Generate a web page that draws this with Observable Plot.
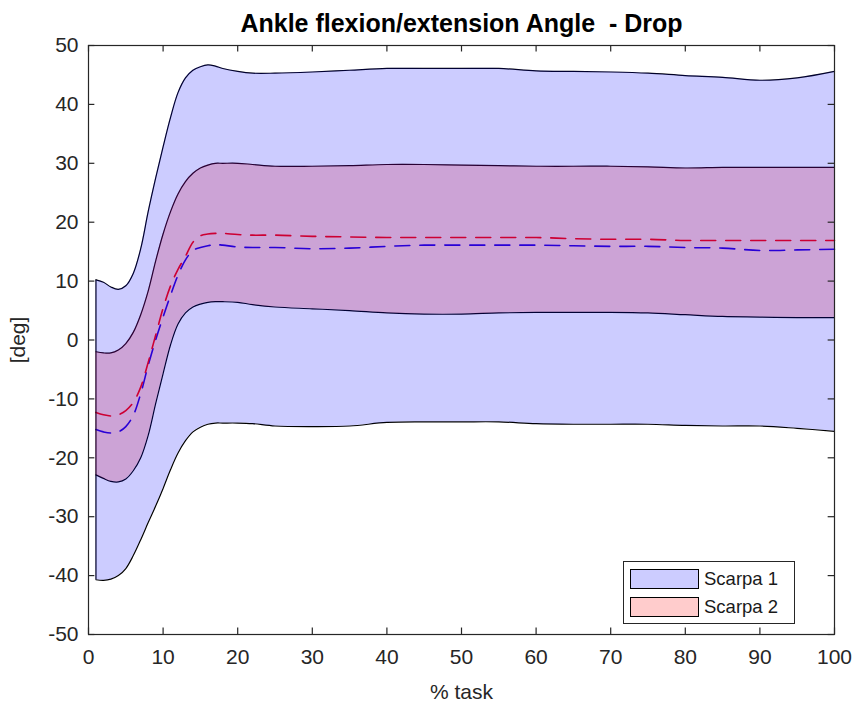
<!DOCTYPE html>
<html>
<head>
<meta charset="utf-8">
<script src="https://cdn.jsdelivr.net/npm/d3@7"></script>
<script src="https://cdn.jsdelivr.net/npm/@observablehq/plot@0.6"></script>
<style>
  body { margin: 0; background: #fff; }
  #wrap { position: relative; width: 856px; height: 706px; font-family: "Liberation Sans", Arial, sans-serif; }
  #legend { position: absolute; left: 623px; top: 561px; width: 172px; height: 63px; border: 1px solid #262626; background: #fff; box-sizing: border-box; }
  .item { position: absolute; left: 6px; height: 21px; display: flex; align-items: center; font-size: 18.5px; color: #1a1a1a; }
  .sw { width: 69px; height: 20px; box-sizing: border-box; border: 1.3px solid #000; margin-right: 5px; }
</style>
</head>
<body>
<div id="wrap"></div>
<script>
// % task sample positions
const xs = [1,2,3,4,5,6,7,8,9,10,11,12,13,14,15,16,17,18,20,22,25,30,35,40,45,50,55,60,65,70,75,80,85,90,95,100];

// Scarpa 1 (blue): mean, mean+SD, mean-SD
const s1Mean = [-15.2,-15.6,-15.8,-15.6,-14.7,-12.8,-9.1,-4.3,0,3.9,7.6,11.0,13.6,15.2,15.7,16.0,16.2,16.1,15.8,15.7,15.7,15.5,15.6,15.9,16.1,16.1,16.1,16.1,16.0,15.9,15.9,15.7,15.6,15.2,15.3,15.4];
const s1Hi = [10.2,9.8,9.0,8.6,9.2,11.3,15.5,21.8,27.5,32.8,37.8,42.0,44.5,45.8,46.4,46.7,46.5,46.1,45.6,45.3,45.3,45.5,45.8,46.1,46.1,46.1,46.1,45.7,45.6,45.5,45.3,44.9,44.6,44.1,44.5,45.6];
const s1Lo = [-40.7,-40.8,-40.6,-40.0,-38.8,-36.6,-33.9,-31.0,-28.2,-25.2,-22.0,-19.2,-17.1,-15.6,-14.8,-14.3,-14.1,-14.1,-14.1,-14.2,-14.6,-14.7,-14.6,-14.0,-13.9,-13.9,-13.9,-14.2,-14.3,-14.3,-14.3,-14.5,-14.6,-14.6,-15.0,-15.5];

// Scarpa 2 (red): mean, mean+SD, mean-SD
const s2Mean = [-12.3,-12.7,-12.9,-12.7,-12.0,-10.6,-8.0,-3.8,0.8,5.4,9.2,12.0,14.2,16.6,17.7,18.0,18.1,18.1,17.9,17.8,17.8,17.6,17.5,17.4,17.4,17.4,17.4,17.4,17.2,17.1,17.1,16.9,16.9,16.9,16.9,16.9];
const s2Hi = [-2.0,-2.2,-2.2,-1.7,-0.6,1.3,4.3,8.3,13.4,18.0,21.8,24.8,26.9,28.3,29.2,29.7,30.0,30.0,30.0,29.8,29.5,29.5,29.6,29.8,29.8,29.7,29.6,29.5,29.5,29.5,29.4,29.2,29.3,29.3,29.3,29.3];
const s2Lo = [-22.9,-23.5,-24.0,-24.1,-23.6,-22.2,-20.0,-16.2,-10.8,-5.7,-0.8,2.7,4.6,5.6,6.1,6.4,6.5,6.5,6.4,6.0,5.6,5.3,5.0,4.6,4.4,4.4,4.6,4.7,4.7,4.7,4.6,4.3,4.0,3.9,3.8,3.8];

const xTicks = [0,10,20,30,40,50,60,70,80,90,100];
const yTicks = [-50,-40,-30,-20,-10,0,10,20,30,40,50];
const seriesNames = ["Scarpa 1", "Scarpa 2"];
const titleText = "Ankle flexion/extension Angle\u00a0 - Drop";

const rows = xs.map((x, i) => ({x, m1: s1Mean[i], h1: s1Hi[i], l1: s1Lo[i], m2: s2Mean[i], h2: s2Hi[i], l2: s2Lo[i]}));
const first = [rows[0]];
const axisColor = "#262626";
const curve = "catmull-rom";
const fmt = d => String(d);

const chart = Plot.plot({
  width: 856,
  height: 706,
  marginLeft: 88,
  marginRight: 22,
  marginTop: 45,
  marginBottom: 72,
  style: {fontFamily: "'Liberation Sans', Arial, sans-serif", fontSize: "21px", color: axisColor, background: "#fff"},
  x: {domain: [0, 100]},
  y: {domain: [-50, 50]},
  marks: [
    // mean lines (drawn under the translucent bands)
    Plot.line(rows, {x: "x", y: "m1", stroke: "#0000ff", strokeWidth: 1.6, strokeDasharray: "15,10", curve}),
    Plot.line(rows, {x: "x", y: "m2", stroke: "#ff0000", strokeWidth: 1.6, strokeDasharray: "15,10", curve}),
    // band edges
    Plot.line(rows, {x: "x", y: "h1", stroke: "#000", strokeWidth: 1.2, curve}),
    Plot.line(rows, {x: "x", y: "l1", stroke: "#000", strokeWidth: 1.2, curve}),
    Plot.line(rows, {x: "x", y: "h2", stroke: "#000", strokeWidth: 1.2, curve}),
    Plot.line(rows, {x: "x", y: "l2", stroke: "#000", strokeWidth: 1.2, curve}),
    Plot.ruleX(first, {x: "x", y1: "l1", y2: "h1", stroke: "#000", strokeWidth: 1.2}),
    // bands
    Plot.areaY(rows, {x: "x", y1: "l2", y2: "h2", fill: "#ff0000", fillOpacity: 0.2, curve}),
    Plot.areaY(rows, {x: "x", y1: "l1", y2: "h1", fill: "#0000ff", fillOpacity: 0.2, curve}),
    // frame and inward ticks on all sides
    Plot.frame({stroke: axisColor, strokeWidth: 1.2}),
    Plot.ruleX(xTicks, {x: d => d, y1: -50, y2: -48.9, stroke: axisColor, strokeWidth: 1.2}),
    Plot.ruleX(xTicks, {x: d => d, y1: 50, y2: 48.9, stroke: axisColor, strokeWidth: 1.2}),
    Plot.ruleY(yTicks, {y: d => d, x1: 0, x2: 0.85, stroke: axisColor, strokeWidth: 1.2}),
    Plot.ruleY(yTicks, {y: d => d, x1: 100, x2: 99.15, stroke: axisColor, strokeWidth: 1.2}),
    Plot.axisX({ticks: xTicks, tickFormat: fmt, tickSize: 0, tickPadding: 15, label: "% task", labelAnchor: "center", labelOffset: 64, labelArrow: "none", fontSize: 21}),
    Plot.axisY({ticks: yTicks, tickFormat: fmt, tickSize: 0, tickPadding: 10, label: "[deg]", labelAnchor: "center", labelOffset: 78, labelArrow: "none", fontSize: 21}),
    Plot.text([titleText], {frameAnchor: "top", dy: -31, fontSize: 25, fontWeight: "bold", fill: "#000", text: d => d})
  ]
});

const wrap = document.getElementById("wrap");
wrap.appendChild(chart);

const legend = document.createElement("div");
legend.id = "legend";
const swColors = ["rgba(0,0,255,0.2)", "rgba(255,0,0,0.2)"];
seriesNames.forEach((name, i) => {
  const item = document.createElement("div");
  item.className = "item";
  item.style.top = (6 + i * 28) + "px";
  const sw = document.createElement("div");
  sw.className = "sw";
  sw.style.background = swColors[i];
  const t = document.createElement("span");
  t.textContent = name;
  item.appendChild(sw);
  item.appendChild(t);
  legend.appendChild(item);
});
wrap.appendChild(legend);
</script>
</body>
</html>
